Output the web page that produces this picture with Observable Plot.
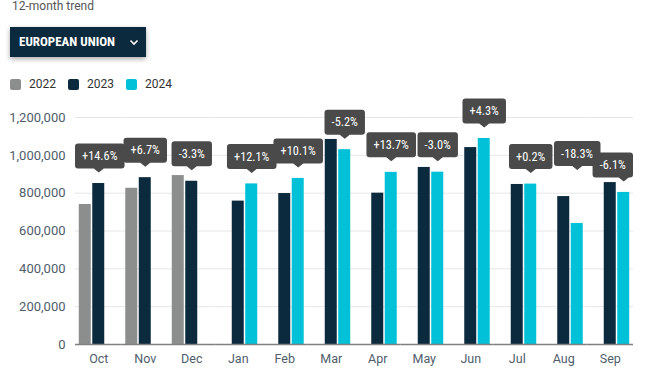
<!DOCTYPE html>
<html>
<head>
<meta charset="utf-8">
<script src="https://cdn.jsdelivr.net/npm/d3@7"></script>
<script src="https://cdn.jsdelivr.net/npm/@observablehq/plot@0.6"></script>
<style>
  html, body { margin: 0; padding: 0; background: #fff; }
  body { width: 672px; height: 383px; overflow: hidden; font-family: Roboto, "Noto Sans", sans-serif; }
  #wrap { position: relative; width: 672px; height: 383px; }
  #title { position: absolute; left: 12px; top: -2px; font-size: 12px; line-height: 16px; color: #555; white-space: nowrap; }
  #btn { position: absolute; left: 10px; top: 27px; width: 136px; height: 30px; background: #0c2a3e;
         box-shadow: 0 2px 5px rgba(0,0,0,0.35); color: #fff; box-sizing: border-box; }
  #btn span { position: absolute; left: 9px; top: 7px; line-height: 16px; font-family: "Roboto Condensed", "Liberation Sans Narrow", "Arial Narrow", Roboto, sans-serif;
              font-weight: 700; font-size: 13px; white-space: nowrap; }
  #btn svg { position: absolute; left: 113px; top: 11px; }
  #legend { position: absolute; left: 10px; top: 77px; height: 14px; display: flex; align-items: center; font-size: 12px; color: #333; }
  .sw { width: 11px; height: 11px; border-radius: 2px; margin-right: 8px; }
  .lt { margin-right: 12px; line-height: 14px; }
  #chart { position: absolute; left: 0; top: 90px; }
  #chart svg { overflow: visible; }
</style>
</head>
<body>
<div id="wrap">
  <div id="title">12-month trend</div>
  <div id="btn"><span>EUROPEAN UNION</span>
    <svg width="22" height="10" viewBox="0 0 22 10"><polyline points="7.5,2.5 11,6 14.5,2.5" fill="none" stroke="#fff" stroke-width="1.6"/></svg>
  </div>
  <div id="legend"></div>
  <div id="chart"></div>
</div>
<script>
// ---- data ----
const months = ["Oct", "Nov", "Dec", "Jan", "Feb", "Mar", "Apr", "May", "Jun", "Jul", "Aug", "Sep"];
const years = [2022, 2023, 2024];
const yearColors = ["#8c8e8e", "#0c2a3e", "#00c1d8"];
const v2022 = [740000, 826000, 893000, null, null, null, null, null, null, null, null, null];
const v2023 = [851000, 882000, 863000, 758000, 798000, 1084000, 800000, 936000, 1041000, 846000, 782000, 856000];
const v2024 = [null, null, null, 849000, 878000, 1030000, 910000, 911000, 1089000, 848000, 640000, 804000];
const changes = ["+14.6%", "+6.7%", "-3.3%", "+12.1%", "+10.1%", "-5.2%", "+13.7%", "-3.0%", "+4.3%", "+0.2%", "-18.3%", "-6.1%"];
const yTicks = [0, 200000, 400000, 600000, 800000, 1000000, 1200000];

// legend
const legend = document.getElementById("legend");
years.forEach((y, i) => {
  const s = document.createElement("div"); s.className = "sw"; s.style.background = yearColors[i];
  const t = document.createElement("div"); t.className = "lt"; t.textContent = y;
  legend.append(s, t);
});

// table built from the arrays
const series = [v2022, v2023, v2024];
const rows = [];
months.forEach((m, i) => years.forEach((yr, k) => {
  if (series[k][i] != null) rows.push({month: m, year: yr, value: series[k][i]});
}));
const labels = months.map((m, i) => {
  const k = v2024[i] != null ? 2 : 1;
  return {month: m, year: years[k], value: series[k][i], text: changes[i]};
});

const W = 672, H = 293, ML = 75, MR = 39, MT = 27, MB = 39;
const chart = Plot.plot({
  width: W, height: H,
  marginLeft: ML, marginRight: MR, marginTop: MT, marginBottom: MB,
  style: {fontFamily: "Roboto, sans-serif", fontSize: "13px", color: "#4f5d6b", background: "transparent"},
  fx: {domain: months, padding: 0, round: false, label: null, axis: "bottom", tickSize: 0, tickPadding: 10},
  x: {type: "band", domain: years, paddingInner: 0.11, paddingOuter: 0.28, round: false, axis: null},
  y: {domain: [0, 1200000], ticks: yTicks, tickFormat: d3.format(","), label: null, tickSize: 0, tickPadding: 10},
  color: {type: "ordinal", domain: years, range: yearColors},
  marks: [
    Plot.ruleY(yTicks, {stroke: "#e6e6e6", strokeWidth: 1}),
    Plot.barY(rows, {fx: "month", x: "year", y: "value", fill: "year"}),
    Plot.ruleY([0], {stroke: "#808080", strokeWidth: 1.5}),
    Plot.text(labels, {fx: "month", x: "year", y: "value", text: "text", fill: "white"})
  ]
});
document.getElementById("chart").append(chart);
const svg = chart.tagName.toLowerCase() === "svg" ? chart : chart.querySelector("svg");

// fx tick labels a bit smaller
svg.querySelectorAll('g[aria-label="fx-axis tick label"] text, g[aria-label="fx-axis tick label"]').forEach(e => e.setAttribute("font-size", "12.5"));

// ---- tooltip-like label boxes around the Plot text positions ----
const sr = svg.getBoundingClientRect();
const bars = Array.from(svg.querySelectorAll('g[aria-label="bar"] rect')).map(r => {
  const b = r.getBoundingClientRect();
  return {l: b.left - sr.left, r: b.right - sr.left, t: b.top - sr.top};
});
const texts = Array.from(svg.querySelectorAll('g[aria-label="text"] text'));
const layer = d3.select(svg).append("g")
  .attr("font-family", '"Roboto Condensed", "Liberation Sans Narrow", "Arial Narrow", Roboto, sans-serif')
  .attr("font-size", 12.3).attr("text-anchor", "middle");
const gap = 11, ph = 4, bh = 25, pad = 7, lift = 30;
texts.forEach(t => {
  const m = t.getCTM();
  const ax = m.e + (+t.getAttribute("x") || 0);
  const ay = m.f + (+t.getAttribute("y") || 0);
  t.setAttribute("font-size", 12.3);
  t.setAttribute("font-family", '"Roboto Condensed", "Liberation Sans Narrow", "Arial Narrow", Roboto, sans-serif');
  const tw = t.getBBox().width;
  const bw = tw + 2 * pad;
  let left = ax - bw / 2;
  left = Math.max(ML, Math.min(W - MR - bw, left));
  let bottom = ay - gap - ph;
  bars.forEach(b => {
    const ov = Math.min(left + bw, b.r) - Math.max(left, b.l);
    if (ov > 3 && bottom > b.t) bottom = Math.min(bottom, b.t - lift);
  });
  const top = bottom - bh, r = 3;
  const p = d3.path();
  p.moveTo(left + r, top);
  p.lineTo(left + bw - r, top); p.arcTo(left + bw, top, left + bw, top + r, r);
  p.lineTo(left + bw, bottom - r); p.arcTo(left + bw, bottom, left + bw - r, bottom, r);
  p.lineTo(ax + 5, bottom); p.lineTo(ax, bottom + ph); p.lineTo(ax - 5, bottom);
  p.lineTo(left + r, bottom); p.arcTo(left, bottom, left, bottom - r, r);
  p.lineTo(left, top + r); p.arcTo(left, top, left + r, top, r);
  p.closePath();
  layer.append("path").attr("d", p.toString()).attr("fill", "#4a4a4a");
  layer.append("text").attr("x", left + bw / 2).attr("y", top + bh / 2).attr("dy", "0.35em")
    .attr("fill", "#fff").text(t.textContent);
  t.remove();
});
</script>
</body>
</html>
